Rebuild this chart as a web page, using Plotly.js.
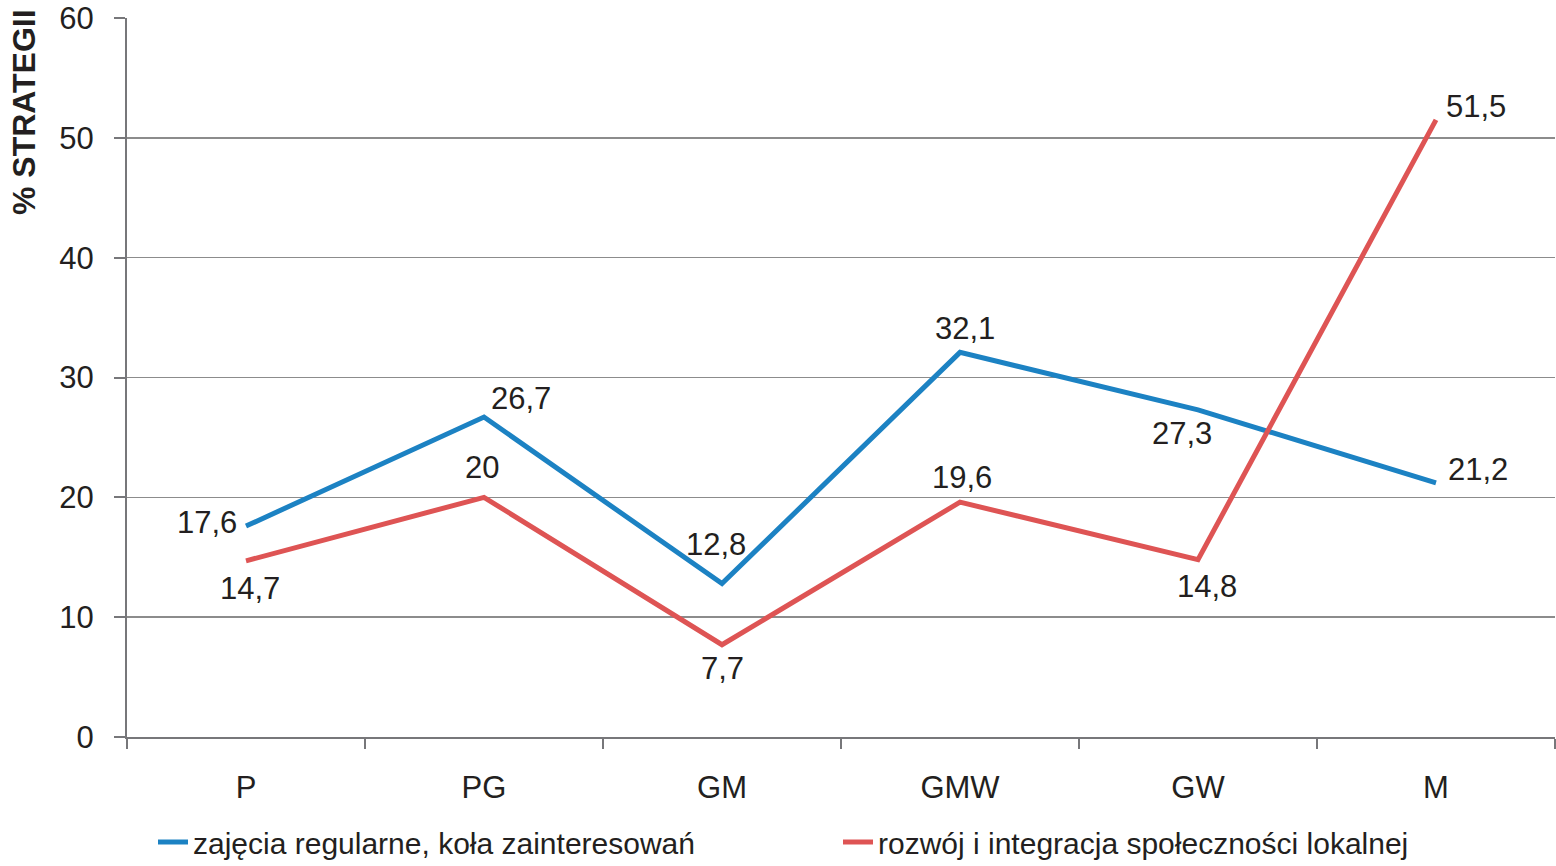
<!DOCTYPE html>
<html>
<head>
<meta charset="utf-8">
<script src="https://cdn.plot.ly/plotly-3.0.1.min.js"></script>
<style>html,body{margin:0;padding:0;background:#fff;}#chart{width:1556px;height:866px;}</style>
</head>
<body>
<div id="chart"></div>
<script>
const categories = ["P", "PG", "GM", "GMW", "GW", "M"];
const seriesNames = ["zajęcia regularne, koła zainteresowań", "rozwój i integracja społeczności lokalnej"];
const zajecia = [17.6, 26.7, 12.8, 32.1, 27.3, 21.2];
const rozwoj = [14.7, 20, 7.7, 19.6, 14.8, 51.5];
const yTicks = [0, 10, 20, 30, 40, 50, 60];

const FONT = '"Liberation Sans Narrow", "Arial Narrow", "Liberation Sans", Arial, sans-serif';
const colors = ["#1c82c3", "#de5454"];

// label pixel offsets (styling only)
const offBlue = [[-39, 4], [37, 19], [-6, 39], [5, 24], [-16, -24], [42, 13]];
const offRed = [[4, -28], [-2, 30], [0, -24], [2, 25], [9, -27], [40, 13]];

function fmt(v) { return String(v).replace('.', ','); }

const traces = [zajecia, rozwoj].map((vals, i) => ({
  type: 'scatter', mode: 'lines', x: categories, y: vals, name: seriesNames[i],
  line: {color: colors[i], width: 5}, hoverinfo: 'skip'
}));

const annotations = [];
[[zajecia, offBlue], [rozwoj, offRed]].forEach(([vals, offs]) => {
  vals.forEach((v, k) => {
    annotations.push({x: categories[k], y: v, xref: 'x', yref: 'y', text: fmt(v), showarrow: false,
      xshift: offs[k][0], yshift: offs[k][1], font: {family: FONT, size: 31, color: '#231f20'}});
  });
});
annotations.push({xref: 'paper', yref: 'paper', x: (24 - 127) / 1428, y: (737 - 112) / 719,
  text: '<b>% STRATEGII</b>', textangle: -90, showarrow: false, xanchor: 'center', yanchor: 'middle',
  font: {family: '"Liberation Sans", Arial, sans-serif', size: 32, color: '#231f20'}});

const layout = {
  width: 1556, height: 866,
  margin: {l: 127, r: 1, t: 18, b: 129},
  paper_bgcolor: '#fff', plot_bgcolor: '#fff',
  font: {family: FONT, size: 31, color: '#231f20'},
  xaxis: {type: 'category', range: [-0.5, 5.5], tickson: 'boundaries', ticks: 'outside', ticklen: 10,
    tickcolor: '#77777a', tickwidth: 2, showline: true, linecolor: '#77777a', linewidth: 2,
    showgrid: false, zeroline: false, ticklabelstandoff: 22, fixedrange: true, automargin: false},
  yaxis: {range: [0, 60], tickvals: yTicks, ticks: 'outside', ticklen: 11, tickcolor: '#77777a', tickwidth: 2,
    showline: true, linecolor: '#77777a', linewidth: 2, showgrid: true, gridcolor: '#8c8c8c', gridwidth: 1.5,
    zeroline: false, ticklabelstandoff: 14, fixedrange: true, automargin: false},
  showlegend: true,
  legend: {orientation: 'h', xref: 'container', yref: 'container', x: 153 / 1556, xanchor: 'left',
    y: 1 - 816 / 866, yanchor: 'top',
    entrywidth: 640, entrywidthmode: 'pixels', font: {family: FONT, size: 30, color: '#231f20'},
    bgcolor: 'rgba(0,0,0,0)'},
  annotations: annotations
};

Plotly.newPlot('chart', traces, layout, {displayModeBar: false, staticPlot: true});
</script>
</body>
</html>
